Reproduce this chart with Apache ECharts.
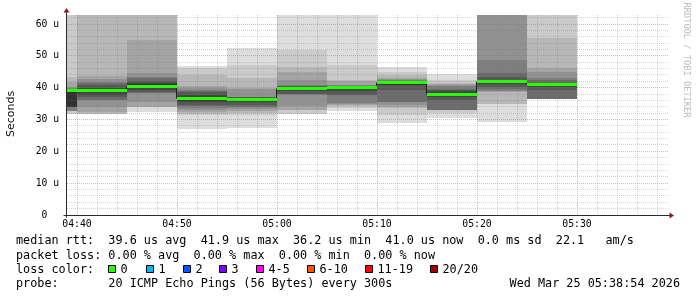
<!DOCTYPE html>
<html><head><meta charset="utf-8">
<script src="https://cdn.jsdelivr.net/npm/echarts@6/dist/echarts.min.js"></script>
<style>html,body{margin:0;padding:0;background:#fff}#c{width:697px;height:297px}</style>
</head><body><div id="c"></div>
<script>
// ---------------- data ----------------
const stepEnds = ['04:40','04:45','04:50','04:55','05:00','05:05','05:10','05:15','05:20','05:25','05:30'];
const medianRtt = [39.0, 39.1, 40.5, 36.7, 36.2, 39.8, 39.9, 41.7, 38.0, 41.9, 40.9];
// 20 sorted ping times per step (µs)
const pingsByStep = [
 [31.7,31.7,32.8,32.8,32.8,32.8,34.0,34.0,34.0,34.0,38.8,39.1,39.3,39.5,39.8,40.1,41.9,43.5,66,74],
 [31.6,31.7,31.7,32.5,34.0,36.0,36.1,37.0,37.7,38.6,39.4,39.8,40.8,41.5,41.9,42.7,43.8,64,69,78],
 [32.5,33.8,33.8,33.8,35.6,38.2,38.2,38.7,39.4,40.1,41.2,41.6,42.2,42.9,43.5,44.7,55.0,65,71,80],
 [26.9,31.4,31.8,32.4,33.0,33.6,34.2,34.7,35.5,35.8,37.0,37.8,38.6,39.0,39.3,40.0,40.5,44.0,46.1,46.9],
 [27.2,31.4,32.0,32.7,33.4,34.0,34.0,34.6,35.4,35.9,36.6,36.8,37.0,37.1,37.2,39.7,39.8,42.9,47.1,52.4],
 [31.7,31.8,33.0,33.0,34.2,37.8,37.9,37.9,39.1,39.5,40.1,40.2,40.4,40.6,40.8,42.4,45.0,46.6,51.8,66],
 [32.7,33.5,34.2,34.4,35.0,35.1,37.6,37.7,39.0,39.7,40.0,40.1,40.3,40.5,40.7,40.8,42.0,42.4,47.1,67],
 [29.0,31.4,33.5,34.0,34.6,35.5,35.6,39.3,40.8,40.9,41.75,41.8,41.85,41.9,42.4,42.8,42.9,44.0,45.0,46.6],
 [30.4,31.9,32.9,32.95,33.0,33.0,33.05,36.1,37.2,37.7,38.3,38.8,39.2,39.6,40.5,40.8,41.2,41.6,42.4,44.3],
 [29.3,34.9,34.95,38.7,38.8,39.0,39.5,40.1,41.0,41.8,42.0,42.4,43.3,44.7,48.7,64,66,70,75,82],
 [36.4,36.4,36.4,36.45,36.45,36.5,36.5,39.3,40.2,40.8,41.0,41.3,41.6,42.3,42.9,45.0,46.1,55.5,65,72]
];
const axisStart = '04:38:54';
const axisEnd = '05:38:54';
const stepSeconds = 300;
const yMax = 62.83;
const xTickLabels = ['04:40','04:50','05:00','05:10','05:20','05:30'];
const yTickValues = [0, 10, 20, 30, 40, 50, 60];
const yTickLabels = ['0  ', '10 u', '20 u', '30 u', '40 u', '50 u', '60 u'];
const rttStats = ['39.6', '41.9', '36.2', '41.0'];
const sdStat = '0.0';
const amStat = '22.1';
const lossStats = ['0.00', '0.00', '0.00', '0.00'];
const lossLabels = ['0', '1', '2', '3', '4-5', '6-10', '11-19', '20/20'];
const probeText = '20 ICMP Echo Pings (56 Bytes) every 300s';
const dateText = 'Wed Mar 25 05:38:54 2026';

// ---------------- styles / layout ----------------
const lossColors = ['#26ff00', '#00b8ff', '#0059ff', '#7e00ff', '#ff00ff', '#ff5500', '#ff0000', '#a10000'];
const lossBoxX = [108.3, 146, 182.7, 219.3, 256, 306.7, 365, 430];
const MONO = "'DejaVu Sans Mono', monospace";

function t(s) {
  const p = s.split(':').map(Number);
  return new Date(2026, 2, 25, p[0], p[1], p[2] || 0).getTime();
}
function pad(n) { return (n < 10 ? '0' : '') + n; }
function fmtTime(v) { const d = new Date(v); return pad(d.getHours()) + ':' + pad(d.getMinutes()); }

const xMin = t(axisStart), xMax = t(axisEnd);
const stepMs = stepSeconds * 1000;

const smokeData = pingsByStep.map((p, i) => [t(stepEnds[i])].concat(p));
const medData = medianRtt.map((m, i) => [t(stepEnds[i]), m, i > 0 ? medianRtt[i - 1] : m]);

function clampRect(cs, x0, y0, x1, y1) {
  x0 = Math.max(x0, cs.x); x1 = Math.min(x1, cs.x + cs.width);
  y0 = Math.max(y0, cs.y); y1 = Math.min(y1, cs.y + cs.height);
  if (x1 <= x0 || y1 <= y0) return null;
  return { x: x0, y: y0, width: x1 - x0, height: y1 - y0 };
}

function renderSmoke(params, api) {
  const cs = params.coordSys;
  const end = api.value(0), start = end - stepMs;
  const children = [];
  for (let k = 1; k <= 10; k++) {
    const lo = api.value(k), hi = api.value(21 - k);
    const a = api.coord([start, hi]), b = api.coord([end, lo]);
    const r = clampRect(cs, Math.round(a[0]), Math.round(a[1]), Math.round(b[0]), Math.round(b[1]));
    if (!r) continue;
    const g = Math.floor(190 / 10 * (10 - k)) + 50;
    children.push({ type: 'rect', shape: r, style: { fill: 'rgb(' + g + ',' + g + ',' + g + ')' } });
  }
  return { type: 'group', children };
}

function renderGrid(params, api) {
  const cs = params.coordSys;
  const children = [];
  const minorC = 'rgba(120,120,120,0.3)', majorC = 'rgba(222,80,80,0.45)';
  const top = cs.y, bottom = cs.y + cs.height;
  const ref = t(xTickLabels[0]);
  let first = ref; while (first - 120000 >= xMin) first -= 120000;
  for (let v = first; v <= xMax; v += 120000) {
    const x = Math.floor(api.coord([v, 0])[0]) + 0.5;
    const major = ((v - ref) % 600000 + 600000) % 600000 === 0;
    children.push({ type: 'line', shape: { x1: x, y1: top, x2: x, y2: bottom },
      style: { stroke: major ? majorC : minorC, lineWidth: 1, lineDash: [1, 1] } });
  }
  for (let v = 2; v <= yMax; v += 2) {
    const y = Math.floor(api.coord([xMin, v])[1]) + 0.5;
    const major = v % 10 === 0;
    children.push({ type: 'line', shape: { x1: cs.x + 1, y1: y, x2: cs.x + cs.width + 3, y2: y },
      style: { stroke: major ? majorC : minorC, lineWidth: 1, lineDash: [1, 1] } });
  }
  return { type: 'group', children };
}

function renderMedianBlack(params, api) {
  const end = api.value(0), start = Math.max(end - stepMs, xMin);
  const y = Math.floor(api.coord([end, api.value(1)])[1]) + 0.5;
  const yp = Math.floor(api.coord([end, api.value(2)])[1]) + 0.5;
  const xs = Math.round(api.coord([start, 0])[0]), xe = Math.round(api.coord([end, 0])[0]);
  const children = [
    { type: 'line', shape: { x1: xs, y1: y, x2: xe, y2: y }, style: { stroke: '#202020', lineWidth: 1 } }
  ];
  if (params.dataIndex > 0) {
    children.push({ type: 'line', shape: { x1: xs - 0.5, y1: yp, x2: xs - 0.5, y2: y }, style: { stroke: '#202020', lineWidth: 1 } });
  }
  return { type: 'group', children };
}

function renderMedianGreen(params, api) {
  const cs = params.coordSys;
  const end = api.value(0), start = end - stepMs;
  const a = api.coord([start, api.value(1)]), b = api.coord([end, api.value(1)]);
  const yc = Math.floor(a[1]);
  const r = clampRect(cs, Math.round(a[0]), yc - 1, Math.round(b[0]), yc + 2);
  if (!r) return null;
  return { type: 'rect', shape: r, style: { fill: lossColors[0] } };
}

function renderFrame(params, api) {
  const o = api.coord([xMin, 0]), r = api.coord([xMax, 0]), tp = api.coord([xMin, yMax]);
  const x0 = Math.floor(o[0]) + 0.5, y0 = Math.floor(o[1]) + 0.5;
  const axisC = '#2a2a2a', arrowC = '#8b1c1c';
  return { type: 'group', children: [
    { type: 'line', shape: { x1: x0 - 3, y1: y0, x2: r[0] + 4, y2: y0 }, style: { stroke: axisC, lineWidth: 1 } },
    { type: 'line', shape: { x1: x0, y1: y0 + 2, x2: x0, y2: tp[1] - 3 }, style: { stroke: axisC, lineWidth: 1 } },
    { type: 'polygon', shape: { points: [[x0, tp[1] - 7], [x0 - 3, tp[1] - 2.5], [x0 + 3, tp[1] - 2.5]] }, style: { fill: arrowC } },
    { type: 'polygon', shape: { points: [[r[0] + 8, y0], [r[0] + 3.5, y0 - 3], [r[0] + 3.5, y0 + 3]] }, style: { fill: arrowC } }
  ] };
}

const statLine1 = 'median rtt:  ' + rttStats[0] + ' us avg  ' + rttStats[1] + ' us max  ' + rttStats[2] +
  ' us min  ' + rttStats[3] + ' us now  ' + sdStat + ' ms sd  ' + amStat + '   am/s';
const statLine2 = 'packet loss: ' + lossStats[0] + ' % avg  ' + lossStats[1] + ' % max  ' + lossStats[2] +
  ' % min  ' + lossStats[3] + ' % now';
const statLine4 = 'probe:       ' + probeText;

const textFont = '11.8px ' + MONO;
const rowY = [241, 255.5, 269.5, 284.3];
const graphics = [
  { type: 'text', x: 16, y: rowY[0], style: { text: statLine1, font: textFont, fill: '#000', verticalAlign: 'middle' } },
  { type: 'text', x: 16, y: rowY[1], style: { text: statLine2, font: textFont, fill: '#000', verticalAlign: 'middle' } },
  { type: 'text', x: 16, y: rowY[2], style: { text: 'loss color:', font: textFont, fill: '#000', verticalAlign: 'middle' } },
  { type: 'text', x: 16, y: rowY[3], style: { text: statLine4, font: textFont, fill: '#000', verticalAlign: 'middle' } },
  { type: 'text', x: 680, y: rowY[3], style: { text: dateText, font: textFont, fill: '#000', align: 'right', verticalAlign: 'middle' } },
  { type: 'text', x: 11, y: 114, rotation: Math.PI / 2, style: { text: 'Seconds', font: "11px 'DejaVu Sans'", fill: '#111', align: 'center', verticalAlign: 'middle' } },
  { type: 'text', x: 686, y: 60, rotation: -Math.PI / 2, style: { text: 'RRDTOOL / TOBI OETIKER', font: '8.7px ' + MONO, fill: '#bdbdbd', align: 'center', verticalAlign: 'middle' } }
];
lossLabels.forEach((lab, i) => {
  const bx = Math.round(lossBoxX[i]);
  graphics.push({ type: 'rect', shape: { x: bx + 0.5, y: 265.5, width: 7, height: 7 }, style: { fill: lossColors[i], stroke: '#000', lineWidth: 1 } });
  graphics.push({ type: 'text', x: bx + 12.5, y: rowY[2], style: { text: lab, font: textFont, fill: '#000', verticalAlign: 'middle' } });
});

const chart = echarts.init(document.getElementById('c'), null, { renderer: 'canvas' });
chart.setOption({
  animation: false,
  backgroundColor: '#ffffff',
  grid: { left: 66, top: 15, width: 600, height: 200, containLabel: false },
  xAxis: {
    type: 'value', min: xMin, max: xMax,
    axisLine: { show: false }, axisTick: { show: false }, splitLine: { show: false },
    axisLabel: { customValues: xTickLabels.map(t), formatter: fmtTime, fontFamily: MONO, fontSize: 9.8, color: '#000', margin: 4 }
  },
  yAxis: {
    type: 'value', min: 0, max: yMax, interval: 10,
    axisLine: { show: false }, axisTick: { show: false }, splitLine: { show: false },
    axisLabel: {
      showMaxLabel: false, fontFamily: MONO, fontSize: 9.7, color: '#000', margin: 7,
      formatter: v => { const i = yTickValues.indexOf(Math.round(v * 100) / 100); return i >= 0 ? yTickLabels[i] : ''; }
    }
  },
  series: [
    { type: 'custom', name: 'smoke', data: smokeData, encode: { x: 0, y: 1 }, renderItem: renderSmoke, z: 2, silent: true },
    { type: 'custom', name: 'grid', data: [[xMin, 0]], encode: { x: 0, y: 1 }, renderItem: renderGrid, z: 3, silent: true },
    { type: 'custom', name: 'median', data: medData, encode: { x: 0, y: 1 }, renderItem: renderMedianBlack, z: 4, silent: true },
    { type: 'custom', name: 'median loss 0', data: medData, encode: { x: 0, y: 1 }, renderItem: renderMedianGreen, z: 5, silent: true },
    { type: 'custom', name: 'axes', data: [[xMin, 0]], encode: { x: 0, y: 1 }, renderItem: renderFrame, z: 6, silent: true }
  ],
  graphic: graphics
});
</script>
</body></html>
